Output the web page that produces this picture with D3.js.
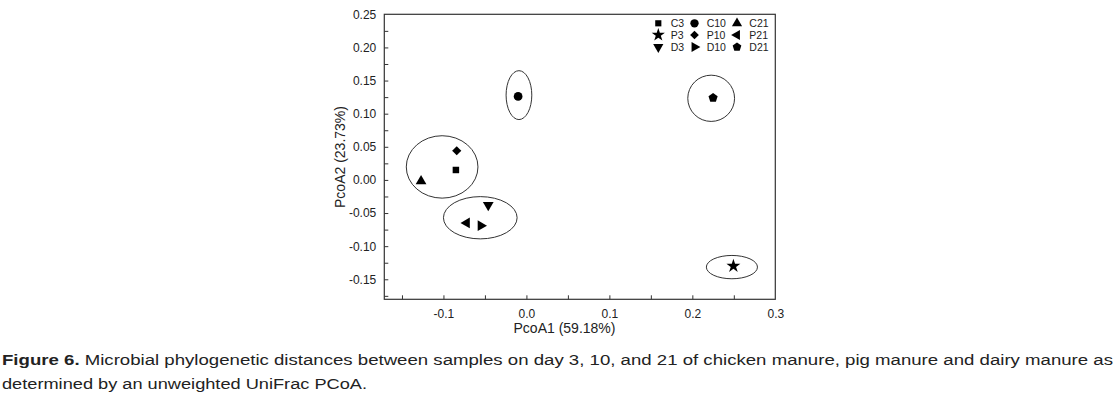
<!DOCTYPE html>
<html><head><meta charset="utf-8">
<script src="https://cdn.jsdelivr.net/npm/d3@7/dist/d3.min.js"></script>
<style>
html,body{margin:0;padding:0;background:#fff;}
svg{display:block;}
text{font-family:"Liberation Sans",Arial,sans-serif;fill:#222;}
</style></head><body>
<svg id="chart" width="1120" height="399"></svg>
<script>
// ---- data ----
const samples = ["C3","C10","C21","P3","P10","P21","D3","D10","D21"];
const pc1 = [-0.085,-0.010,-0.127,0.2495,-0.084,-0.072,-0.046,-0.055,0.225];
const pc2 = [0.015,0.126,-0.002,-0.130,0.044,-0.065,-0.038,-0.069,0.124];
const shapes = ["square","circle","triangleUp","star","diamond","triangleLeft","triangleDown","triangleRight","pentagon"];
// cluster ellipses (centre x, centre y, radius x, radius y in data units)
const ellCx = [-0.1016,-0.0556,-0.009,0.2227,0.2477];
const ellCy = [0.0196,-0.0571,0.128,0.1232,-0.1316];
const ellRx = [0.0432,0.0444,0.0155,0.0282,0.0308];
const ellRy = [0.0471,0.0319,0.0369,0.0349,0.0176];
const xMajor = [-0.1,0.0,0.1,0.2,0.3];
const xMinor = [-0.15,-0.1,-0.05,0,0.05,0.1,0.15,0.2,0.25];
const yMajor = [-0.15,-0.10,-0.05,0.00,0.05,0.10,0.15,0.20,0.25];
const yMinor = [-0.175,-0.15,-0.125,-0.1,-0.075,-0.05,-0.025,0,0.025,0.05,0.075,0.1,0.125,0.15,0.175,0.2,0.225];
const xTitle = "PcoA1 (59.18%)";
const yTitle = "PcoA2 (23.73%)";
const captionBold = "Figure 6.";
const captionLine1 = " Microbial phylogenetic distances between samples on day 3, 10, and 21 of chicken manure, pig manure and dairy manure as";
const captionLine2 = "determined by an unweighted UniFrac PCoA.";

// ---- layout ----
const L = 384.3, R = 775.3, T = 14.3, B = 299.3;
const svg = d3.select("#chart");
const x = d3.scaleLinear().domain([-0.1713, 0.3]).range([L, R]);
const y = d3.scaleLinear().domain([-0.1802, 0.25]).range([B, T]);
const fmt1 = d => d3.format(".1f")(d).replace("\u2212","-");
const fmt2 = d => d3.format(".2f")(d).replace("\u2212","-");

// symbols
function pentagon(){ return {draw(ctx,size){const r=Math.sqrt(size/2.38);for(let i=0;i<5;i++){const a=-Math.PI/2+i*2*Math.PI/5;const px=r*Math.cos(a),py=r*Math.sin(a);i?ctx.lineTo(px,py):ctx.moveTo(px,py);}ctx.closePath();}}; }
function diamondSq(){ return {draw(ctx,size){const r=Math.sqrt(size/2);ctx.moveTo(0,-r);ctx.lineTo(r,0);ctx.lineTo(0,r);ctx.lineTo(-r,0);ctx.closePath();}}; }
const symDef = {
  square:[d3.symbolSquare,42,0], circle:[d3.symbolCircle,60,0], triangleUp:[d3.symbolTriangle,50,0],
  star:[d3.symbolStar,60,0], diamond:[diamondSq(),42,0], triangleLeft:[d3.symbolTriangle,50,-90],
  triangleDown:[d3.symbolTriangle,50,180], triangleRight:[d3.symbolTriangle,50,90], pentagon:[pentagon(),55,0]
};
function drawSym(g, shape, cx, cy, scale){
  const [t,s,rot] = symDef[shape];
  g.append("path").attr("d", d3.symbol().type(t).size(s*(scale||1))())
    .attr("transform", `translate(${cx},${cy}) rotate(${rot})`).attr("fill","#000");
}

// ellipses
svg.append("g").selectAll("ellipse").data(d3.range(ellCx.length)).join("ellipse")
  .attr("cx", i=>x(ellCx[i])).attr("cy", i=>y(ellCy[i]))
  .attr("rx", i=>x(ellRx[i])-x(0)).attr("ry", i=>y(0)-y(ellRy[i]))
  .attr("fill","none").attr("stroke","#333").attr("stroke-width",1);

// points
const pts = svg.append("g");
samples.forEach((s,i)=>drawSym(pts, shapes[i], x(pc1[i]), y(pc2[i])));

// frame
svg.append("rect").attr("x",L).attr("y",T).attr("width",R-L).attr("height",B-T)
  .attr("fill","none").attr("stroke","#333").attr("stroke-width",1.2);

// axes (inward ticks)
const gx = svg.append("g").attr("transform",`translate(0,${B})`);
gx.call(d3.axisBottom(x).tickValues(xMinor).tickSize(-4).tickFormat(""));
gx.select(".domain").remove();
gx.selectAll("line").attr("stroke","#333");
const gxl = svg.append("g").attr("transform",`translate(0,${B})`);
gxl.call(d3.axisBottom(x).tickValues(xMajor).tickSize(0).tickPadding(10).tickFormat(fmt1));
gxl.select(".domain").remove();
gxl.selectAll("text").attr("font-size",12).attr("font-family","Liberation Sans, Arial, sans-serif").attr("fill","#222");

const gy = svg.append("g").attr("transform",`translate(${L},0)`);
gy.call(d3.axisLeft(y).tickValues(yMinor).tickSize(-4).tickFormat(""));
gy.select(".domain").remove();
gy.selectAll("line").attr("stroke","#333");
const gyl = svg.append("g").attr("transform",`translate(${L},0)`);
gyl.call(d3.axisLeft(y).tickValues(yMajor).tickSize(0).tickPadding(8).tickFormat(fmt2));
gyl.select(".domain").remove();
gyl.selectAll("text").attr("font-size",12).attr("font-family","Liberation Sans, Arial, sans-serif").attr("fill","#222");

// axis titles
svg.append("text").attr("x",564.5).attr("y",333).attr("text-anchor","middle").attr("font-size",14).text(xTitle);
svg.append("text").attr("transform","translate(345,157) rotate(-90)").attr("text-anchor","middle").attr("font-size",14).text(yTitle);

// legend
const legX = [658.3, 694.5, 737];
const legTX = [670.7, 706.7, 749.3];
const legY = [23.3, 35, 47];
const lg = svg.append("g");
samples.forEach((s,i)=>{
  const row = Math.floor(i/3), col = i%3;
  drawSym(lg, shapes[i], legX[col], legY[row], 0.9);
  lg.append("text").attr("x",legTX[col]).attr("y",legY[row]+3.8).attr("font-size",10.5).text(s);
});

// caption
const cap = svg.append("g").attr("font-family","'Liberation Sans', Arial, sans-serif");
const c1 = cap.append("text").attr("x",2).attr("y",365).attr("font-size",15.5)
  .attr("textLength",1111).attr("lengthAdjust","spacingAndGlyphs");
c1.append("tspan").attr("font-weight","bold").text(captionBold);
c1.append("tspan").text(captionLine1);
cap.append("text").attr("x",2).attr("y",389).attr("font-size",15.5)
  .attr("textLength",365).attr("lengthAdjust","spacingAndGlyphs").text(captionLine2);
</script>
</body></html>
